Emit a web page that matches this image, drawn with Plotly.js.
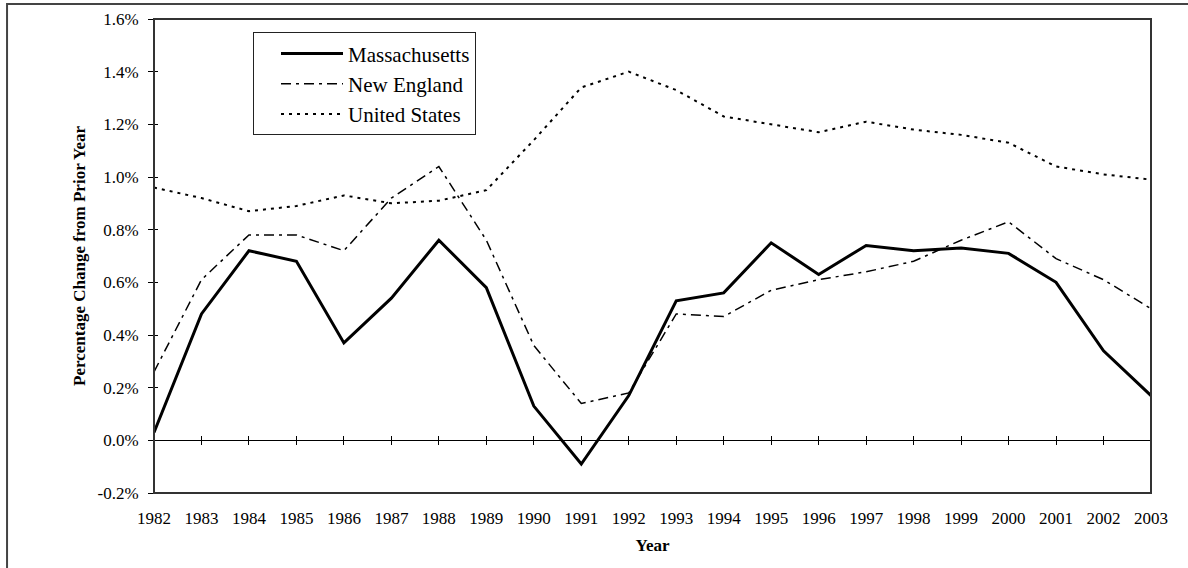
<!DOCTYPE html>
<html>
<head>
<meta charset="utf-8">
<script src="https://cdn.plot.ly/plotly-3.0.1.min.js"></script>
<style>
  body { margin: 0; background: #fff; }
  #chart { width: 1188px; height: 568px; }
</style>
</head>
<body>
<div id="chart"></div>
<script>
"use strict";

// values in percent
const years = [1982, 1983, 1984, 1985, 1986, 1987, 1988, 1989, 1990, 1991, 1992,
               1993, 1994, 1995, 1996, 1997, 1998, 1999, 2000, 2001, 2002, 2003];
const massachusetts = [0.03, 0.48, 0.72, 0.68, 0.37, 0.54, 0.76, 0.58, 0.13, -0.09, 0.17,
                       0.53, 0.56, 0.75, 0.63, 0.74, 0.72, 0.73, 0.71, 0.60, 0.34, 0.17];
const newEngland = [0.26, 0.61, 0.78, 0.78, 0.72, 0.92, 1.04, 0.76, 0.36, 0.14, 0.18,
                    0.48, 0.47, 0.57, 0.61, 0.64, 0.68, 0.76, 0.83, 0.69, 0.61, 0.50];
const unitedStates = [0.96, 0.92, 0.87, 0.89, 0.93, 0.90, 0.91, 0.95, 1.14, 1.34, 1.40,
                      1.33, 1.23, 1.20, 1.17, 1.21, 1.18, 1.16, 1.13, 1.04, 1.01, 0.99];
const yTicks = [-0.2, 0, 0.2, 0.4, 0.6, 0.8, 1.0, 1.2, 1.4, 1.6];
const yTickText = yTicks.map(v => v.toFixed(1) + "%");

const serif = "Liberation Serif";
const yRange = [-0.2, 1.6];
const xRange = [1982, 2003];
const zeroPos = (0 - yRange[0]) / (yRange[1] - yRange[0]);

const traces = [
    {
        x: years, y: massachusetts, name: "Massachusetts", type: "scatter", mode: "lines",
        line: { color: "#000", width: 3 }, legendgroup: "a"
    },
    {
        x: years, y: newEngland, name: "New England", type: "scatter", mode: "lines",
        line: { color: "#000", width: 1.5, dash: "10px,5px,3px,5px" }, legendgroup: "b"
    },
    {
        x: years, y: unitedStates, name: "United States", type: "scatter", mode: "lines",
        line: { color: "#000", width: 2, dash: "3px,5px" }, legendgroup: "c"
    }
];

const layout = {
    width: 1188,
    height: 568,
    margin: { l: 154, r: 37, t: 19, b: 75 },
    paper_bgcolor: "#fff",
    plot_bgcolor: "#fff",
    font: { family: serif, size: 17, color: "#000" },
    showlegend: true,
    legend: {
        x: 0.0993, y: 0.972, xanchor: "left", yanchor: "top",
        bgcolor: "#fff", bordercolor: "#222", borderwidth: 1,
        font: { family: serif, size: 21, color: "#000" },
        itemwidth: 62, tracegroupgap: 0, indentation: 22,
        entrywidth: 215
    },
    xaxis: {
        range: xRange, tickvals: years, ticks: "", showgrid: false, zeroline: false,
        showline: false, ticklabelstandoff: 13,
        title: { text: "Year", font: { family: serif, size: 17, weight: "bold" }, standoff: 12 }
    },
    // zero line with cross ticks
    xaxis2: {
        overlaying: "x", anchor: "free", position: zeroPos, side: "bottom",
        range: xRange, tickvals: years, showticklabels: false, ticks: "outside",
        ticklen: 4, tickcolor: "#000", showline: true, linecolor: "#000", linewidth: 1,
        showgrid: false, zeroline: false
    },
    xaxis3: {
        overlaying: "x", anchor: "free", position: zeroPos, side: "bottom",
        range: xRange, tickvals: years, showticklabels: false, ticks: "inside",
        ticklen: 4, tickcolor: "#000", showline: false, showgrid: false, zeroline: false
    },
    yaxis: {
        range: yRange, tickvals: yTicks, ticktext: yTickText,
        ticks: "outside", ticklen: 5, tickcolor: "#000", showline: true,
        linecolor: "#000", linewidth: 1, showgrid: false, zeroline: false,
        ticklabelstandoff: 6,
        title: {
            text: "Percentage Change from Prior Year",
            font: { family: serif, size: 17, weight: "bold" }, standoff: 7
        }
    },
    yaxis2: {
        overlaying: "y", range: yRange, tickvals: yTicks, showticklabels: false,
        ticks: "inside", ticklen: 4, tickcolor: "#000", showgrid: false, zeroline: false
    },
    shapes: [
        // plot frame
        {
            type: "rect", xref: "paper", yref: "paper", x0: 0, x1: 1, y0: 0, y1: 1,
            line: { color: "#333", width: 2 }, layer: "above"
        },
        // outer chart border (runs off the right and bottom edges)
        {
            type: "rect", xref: "paper", yref: "paper", x0: -0.1474, x1: 1.2, y0: -0.4, y1: 1.0316,
            line: { color: "#444", width: 2 }
        }
    ]
};

// empty helper traces so the overlay axes are drawn
traces.push({ x: [], y: [], xaxis: "x2", showlegend: false, hoverinfo: "skip" });
traces.push({ x: [], y: [], xaxis: "x3", showlegend: false, hoverinfo: "skip" });
traces.push({ x: [], y: [], yaxis: "y2", showlegend: false, hoverinfo: "skip" });

Plotly.newPlot("chart", traces, layout, { displayModeBar: false, staticPlot: true });
</script>
</body>
</html>
